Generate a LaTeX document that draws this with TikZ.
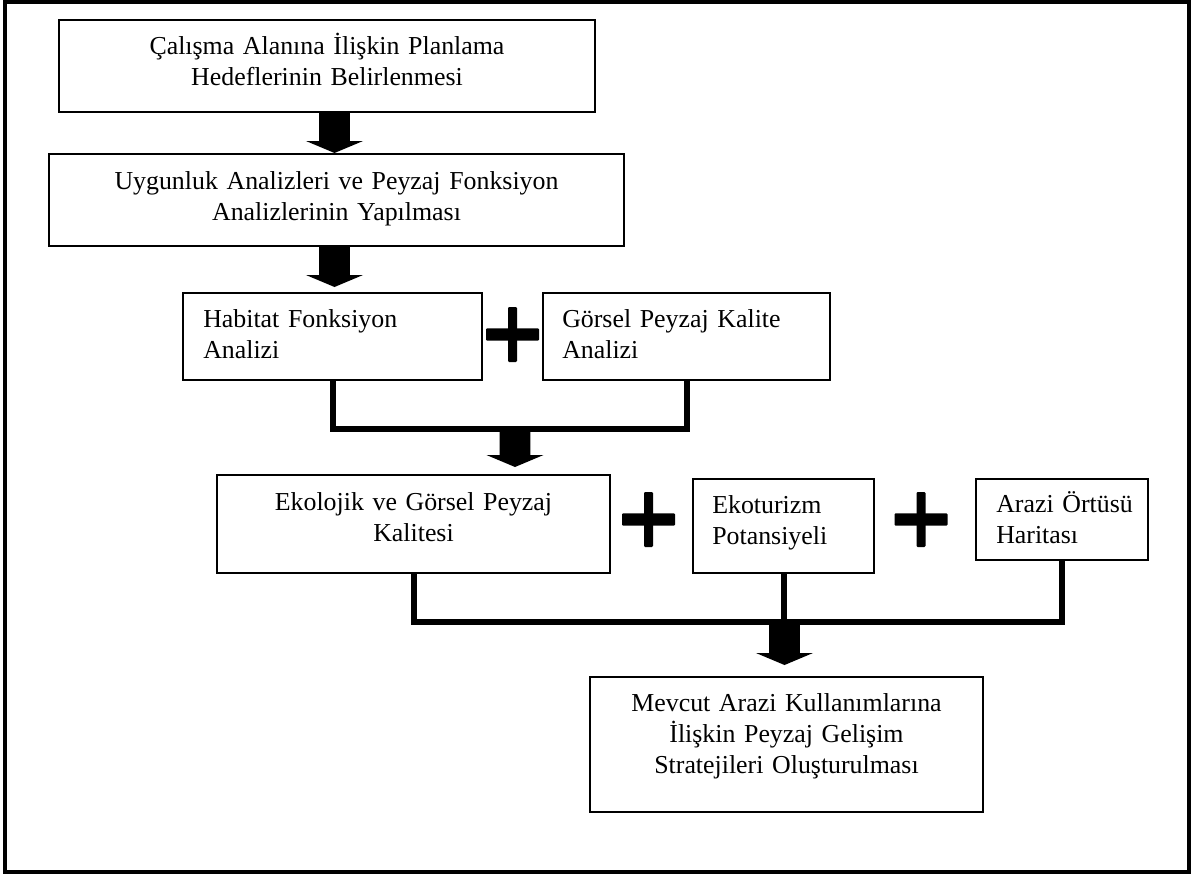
\documentclass[tikz,border=0pt]{standalone}
\usepackage{fontspec}
\setmainfont{Liberation Serif}
\usetikzlibrary{calc,fit}

% one unit = one pixel, y grows downwards
\tikzset{
  x=0.75pt, y=-0.75pt,
  frame/.style={draw, line width=3pt, inner sep=0pt},
  box/.style={draw, line width=1.5pt, inner sep=0pt},
  txt/.style={inner sep=0pt, font=\fontsize{19.4}{23.25}\selectfont},
  ctxt/.style={txt, anchor=base, align=center, text width=400pt},
  ltxt/.style={txt, anchor=base west, align=left, text width=240pt},
  link/.style={line width=4.5pt},
}

% thick block arrow pointing down from #1 to the tip #2
\newcommand\fatarrow[2]{%
  \fill let \p1=#1, \p2=#2 in
    (\x1-11.6pt,\y1) -- (\x1+11.6pt,\y1) -- (\x1+11.6pt,\y2+9pt)
    -- (\x1+21.4pt,\y2+9pt) -- (\x1,\y2) -- (\x1-21.4pt,\y2+9pt)
    -- (\x1-11.6pt,\y2+9pt) -- cycle;}

% bold plus sign centred on #1
\newcommand\plusmark[1]{%
  \fill[rounded corners=0.8pt] ($#1+(-26.5,-6.2)$) rectangle ($#1+(26.5,6.2)$);
  \fill[rounded corners=0.8pt] ($#1+(-4.5,-27.5)$) rectangle ($#1+(4.5,27.5)$);}

\begin{document}
\begin{tikzpicture}
\useasboundingbox (0,0) rectangle (1193,875);
\fill[white] (0,0) rectangle (1193,875);

\node[frame, fit={(4.7,2) (1188.7,871.5)}] (outer) {};

% boxes
\node[box, fit={(59,20) (595,112)}]   (b1) {};
\node[box, fit={(49,154) (624,246)}]  (b2) {};
\node[box, fit={(183,293) (482,380)}] (b3) {};
\node[box, fit={(543,293) (830,380)}] (b4) {};
\node[box, fit={(217,475) (610,573)}] (b5) {};
\node[box, fit={(693,479) (874,573)}] (b6) {};
\node[box, fit={(976,479) (1148,560)}] (b7) {};
\node[box, fit={(590,677) (983,812)}] (b8) {};

% texts
\node[ctxt] (t1) at ($(b1.north)+(0,35)$) {Çalışma Alanına İlişkin Planlama\\Hedeflerinin Belirlenmesi};
\node[ctxt] (t2) at ($(b2.north)+(0,36)$) {Uygunluk Analizleri ve Peyzaj Fonksiyon\\Analizlerinin Yapılması};
\node[ltxt] (t3) at ($(b3.north west)+(21,35)$) {Habitat Fonksiyon\\Analizi};
\node[ltxt] (t4) at ($(b4.north west)+(20,35)$) {Görsel Peyzaj Kalite\\Analizi};
\node[ctxt] (t5) at ($(b5.north)+(0,36)$) {Ekolojik ve Görsel Peyzaj\\Kalitesi};
\node[ltxt] (t6) at ($(b6.north west)+(20,35)$) {Ekoturizm\\Potansiyeli};
\node[ltxt] (t7) at ($(b7.north west)+(21,34)$) {Arazi Örtüsü\\Haritası};
\node[ctxt] (t8) at ($(b8.north)+(0,35)$) {Mevcut Arazi Kullanımlarına\\İlişkin Peyzaj Gelişim\\Stratejileri Oluşturulması};

% plus signs between combined inputs
\plusmark{(512.5,334.5)}
\plusmark{(648.5,519.5)}
\plusmark{(921,519.5)}

% joining lines
\draw[link] (b3.south) -- ++(0,48) coordinate (j1) -| (b4.south);
\draw[link] (b5.south) -- ++(0,48) coordinate (j2) -| (b7.south);
\draw[link] (b6.south) -- (b6.south |- j2);

% block arrows
\coordinate (a1) at (334.5,0);
\coordinate (a3) at (515,0);
\coordinate (a4) at (784.5,0);
\fatarrow{(a1 |- b1.south)}{(a1 |- b2.north)}
\fatarrow{(a1 |- b2.south)}{($(a1 |- b3.north)+(0,-5)$)}
\fatarrow{(a3 |- j1)}{($(a3 |- b5.north)+(0,-7)$)}
\fatarrow{(a4 |- j2)}{($(a4 |- b8.north)+(0,-11)$)}
\end{tikzpicture}
\end{document}
